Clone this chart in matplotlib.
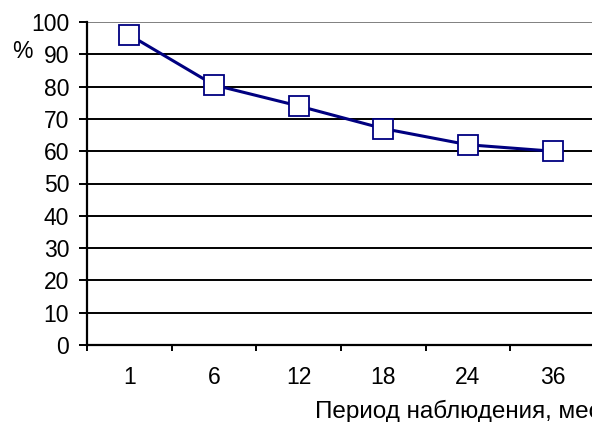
import matplotlib
matplotlib.use("Agg")
import matplotlib.pyplot as plt
import numpy as np

plt.rcParams["font.family"] = ["Liberation Sans", "DejaVu Sans"]

# data
periods = ["1", "6", "12", "18", "24", "36"]
values = [96, 80.5, 74, 67, 62, 60]
y_ticks = list(range(0, 101, 10))

NAVY = "#000080"
FS = 16.5

fig = plt.figure(figsize=(5.92, 4.22), dpi=100, facecolor="white")
ax = fig.add_axes([87 / 592, 1 - 345 / 422, (595 - 87) / 592, (345 - 22) / 422])

x = np.arange(len(periods))

# gridlines (top one grey, like Excel's plot-area border)
for v in y_ticks[1:]:
    col = "#808080" if v == 100 else "black"
    ax.axhline(v, color=col, linewidth=1.4, zorder=1)

ax.plot(x, values, color=NAVY, linewidth=2.2, marker="s", markersize=14,
        markerfacecolor="white", markeredgecolor=NAVY, markeredgewidth=1.3,
        zorder=3, clip_on=False)

ax.set_xlim(-0.5, len(periods) - 0.5)
ax.set_ylim(0, 100)

ax.set_xticks(x)
ax.set_xticklabels(periods)
ax.set_xticks(np.arange(-0.5, len(periods)), minor=True)
ax.tick_params(axis="x", which="major", length=0, pad=15, labelsize=FS)
ax.tick_params(axis="x", which="minor", length=4.3, width=1.4, direction="out",
               color="black")

ax.set_yticks(y_ticks)
ax.tick_params(axis="y", length=5.8, width=1.4, direction="out", pad=7,
               labelsize=FS)

for s in ["top", "right"]:
    ax.spines[s].set_visible(False)
ax.spines["left"].set_linewidth(1.6)
ax.spines["bottom"].set_linewidth(1.6)

fig.text(12 / 592, 1 - 58 / 422, "%", fontsize=FS, va="baseline", ha="left")
fig.text(315 / 592, 1 - 418 / 422, "Период наблюдения, мес", fontsize=17.5,
         va="baseline", ha="left")

fig.savefig("out.png", dpi=100, facecolor="white")
